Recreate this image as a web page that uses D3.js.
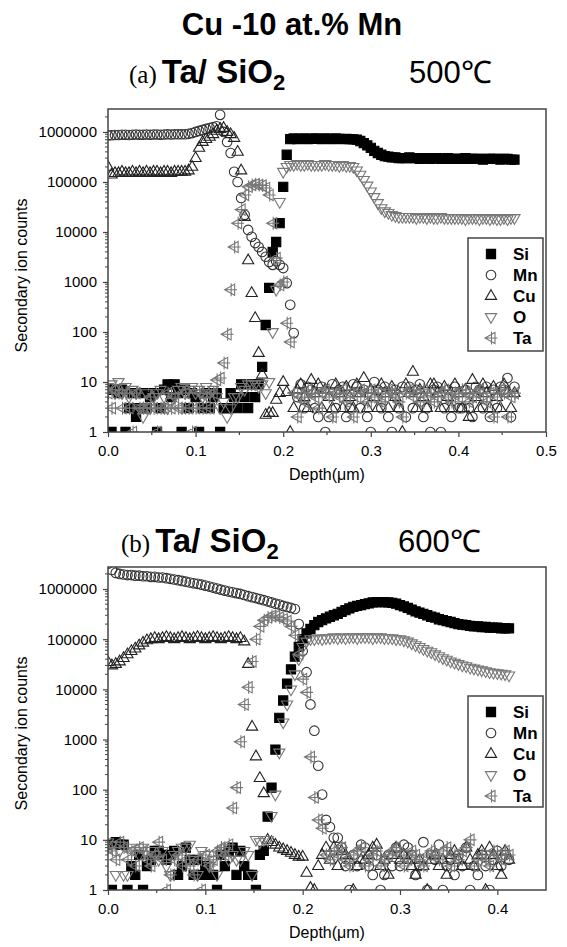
<!DOCTYPE html>
<html>
<head>
<meta charset="utf-8">
<script src="https://cdn.jsdelivr.net/npm/d3@7"></script>
<style>
  body { margin: 0; background: #fff; }
  svg text { font-family: "Liberation Sans", Arial, sans-serif; fill: #000; }
</style>
</head>
<body>
<svg id="chart" width="567" height="947"></svg>
<script>
// ---- data ----
const elements = ['Si', 'Mn', 'Cu', 'O', 'Ta'];
const yTickValues = [1, 10, 100, 1000, 10000, 100000, 1000000];
const xTicksA = [0, 0.1, 0.2, 0.3, 0.4, 0.5];
const xTicksB = [0, 0.1, 0.2, 0.3, 0.4];

// (a) 500 C
const depthA = [0,.004,.008,.012,.016,.02,.024,.028,.032,.036,
  .04,.044,.048,.052,.056,.06,.064,.068,.072,.076,
  .08,.084,.088,.092,.096,.1,.104,.108,.112,.116,
  .12,.124,.128,.132,.136,.14,.144,.148,.152,.156,
  .16,.164,.168,.172,.176,.18,.184,.188,.192,.196,
  .2,.204,.208,.212,.216,.22,.224,.228,.232,.236,
  .24,.244,.248,.252,.256,.26,.264,.268,.272,.276,
  .28,.284,.288,.292,.296,.3,.304,.308,.312,.316,
  .32,.324,.328,.332,.336,.34,.344,.348,.352,.356,
  .36,.364,.368,.372,.376,.38,.384,.388,.392,.396,
  .4,.404,.408,.412,.416,.42,.424,.428,.432,.436,
  .44,.444,.448,.452,.456,.46,.464];
const siA = [7,1,7,6,7,1,3,6,2,3,
  6,3,5,6,1,3,7,9,5,9,
  6,1,7,3,6,5,1,3,6,3,
  5,6,1,3,3,6,5,3,9,5,
  3,9,5,9,20,138,760,4e3,6.3e3,1.5e4,
  8e4,3.5e5,7.2e5,7.4e5,7.2e5,7.3e5,7.4e5,7.2e5,7.3e5,7.4e5,
  7.3e5,7.2e5,7.4e5,7.3e5,7.2e5,7.4e5,7.3e5,7.2e5,7.3e5,7.2e5,
  7.1e5,7e5,6.6e5,6e5,5.4e5,4.8e5,4.2e5,3.8e5,3.5e5,3.3e5,
  3.2e5,3.1e5,3.1e5,3e5,3e5,3e5,3.1e5,3e5,3e5,2.9e5,
  3e5,3e5,2.9e5,3e5,3e5,2.9e5,2.9e5,3e5,2.9e5,2.9e5,
  2.9e5,2.9e5,3e5,2.9e5,2.9e5,2.9e5,2.9e5,2.8e5,2.9e5,2.9e5,
  2.9e5,2.9e5,2.8e5,2.9e5,2.9e5,2.8e5,2.8e5];
const mnA = [8.5e5,8.6e5,8.7e5,8.7e5,8.8e5,8.8e5,8.7e5,8.8e5,8.9e5,8.8e5,
  8.8e5,8.9e5,8.8e5,8.9e5,8.9e5,8.8e5,8.9e5,9e5,8.9e5,9e5,
  9e5,9e5,9e5,9.2e5,9.5e5,1e6,1.05e6,1.1e6,1.15e6,1.2e6,
  1.25e6,1.3e6,2.2e6,1e6,6.3e5,3.8e5,1.6e5,1e5,4.8e4,2.2e4,
  1.1e4,8e3,6e3,5e3,4e3,3.2e3,2.5e3,2.2e3,2.6e3,2.2e3,
  1.9e3,950,350,95,5,9,3,8,7,3,
  2,8,1,2,9,3,7,8,2,3,
  9,8,3,7,2,1,10,7,3,8,
  2,1,7,3,8,2,8,3,7,9,
  2,3,1,7,8,1,3,7,2,8,
  3,3,7,3,2,8,7,3,8,2,
  7,3,8,7,12,2,8];
const cuA = [2e5,1.4e5,1.5e5,1.5e5,1.6e5,1.5e5,1.5e5,1.6e5,1.5e5,1.6e5,
  1.5e5,1.6e5,1.5e5,1.6e5,1.6e5,1.5e5,1.6e5,1.6e5,1.5e5,1.6e5,
  1.6e5,1.6e5,1.6e5,1.7e5,2e5,3e5,4.8e5,6.3e5,7.2e5,8e5,
  9e5,1.05e6,1.15e6,1.2e6,1e6,9e5,7.6e5,4e5,1.7e5,2e4,
  2.7e3,600,190,38,14,2.2,2.4,2.4,4.4,6,
  10,6.3,1,3,7,9,5,3,11,6,
  9,3,7,5,3,9,6,3,8,5,
  3,9,6,12,3,7,5,3,9,6,
  3,8,5,3,1,9,6,16,3,7,
  5,3,9,9,6,3,8,5,3,9,
  6,3,7,2,11,5,3,9,6,3,
  8,5,3,9,6,3,6];
const oA = [8,9,6,10,6,8,5,7,6,3,
  2,6,3,5,6,7,5,3,4,5,
  7,8,6,7,8,6,7,5,8,6,
  7,5,3,4,2,3,5,5,8,7,
  9,9,9,8,9,6,10,100,700,4e4,
  1.6e5,2e5,2.2e5,2.2e5,2.3e5,2.2e5,2.2e5,2.3e5,2.2e5,2.2e5,
  2.2e5,2.2e5,2.3e5,2.2e5,2.2e5,2.2e5,2.1e5,2.2e5,2.1e5,2.1e5,
  2e5,1.7e5,1.4e5,1.1e5,8.5e4,6.5e4,5e4,3.8e4,3e4,2.6e4,
  2.4e4,2.2e4,2.1e4,2e4,2e4,2e4,2e4,2e4,1.9e4,2e4,
  2e4,1.9e4,2e4,1.9e4,1.9e4,2e4,1.9e4,1.9e4,1.9e4,1.9e4,
  1.9e4,1.9e4,1.8e4,1.9e4,1.9e4,1.9e4,1.8e4,1.9e4,1.9e4,1.8e4,
  1.9e4,1.8e4,1.8e4,1.9e4,1.8e4,1.9e4,1.9e4];
const taA = [6,3,7,6,3,6,3,1,6,3,
  3,3,5,3,1,3,3,6,3,5,
  3,3,6,3,1,3,6,3,5,3,
  6,11,12,24,90,700,5e3,1.5e4,2.8e4,5.5e4,
  8e4,8.7e4,9e4,8.7e4,8.5e4,7.6e4,5.5e4,1.5e4,3e3,870,
  1e3,150,63,6,2,5,4,7,6,5,
  3,6,7,5,2,6,5,7,4,6,
  2,5,7,6,4,7,5,6,4,5,
  7,6,5,4,2,6,7,5,6,4,
  7,5,6,4,5,6,7,5,4,6,
  5,7,6,4,5,6,7,5,4,6,
  2,5,7,6,2,5,6];

// (b) 600 C
const depthB = [0,.004,.008,.012,.016,.02,.024,.028,.032,.036,
  .04,.044,.048,.052,.056,.06,.064,.068,.072,.076,
  .08,.084,.088,.092,.096,.1,.104,.108,.112,.116,
  .12,.124,.128,.132,.136,.14,.144,.148,.152,.156,
  .16,.164,.168,.172,.176,.18,.184,.188,.192,.196,
  .2,.204,.208,.212,.216,.22,.224,.228,.232,.236,
  .24,.244,.248,.252,.256,.26,.264,.268,.272,.276,
  .28,.284,.288,.292,.296,.3,.304,.308,.312,.316,
  .32,.324,.328,.332,.336,.34,.344,.348,.352,.356,
  .36,.364,.368,.372,.376,.38,.384,.388,.392,.396,
  .4,.404,.408,.412];
const siB = [8,1,9,8,8,1,3,2,5,1,
  3,4,6,6,5,4,5,6,2,3,
  7,4,2,4,2,3,2,2,1,5,
  3,6,7,2,6,3,2,2,1,5,
  6,29,110,630,2.7e3,6e3,1.3e4,2.5e4,4.5e4,7e4,
  1e5,1.3e5,1.6e5,1.9e5,2.2e5,2.4e5,2.6e5,2.8e5,3e5,3.2e5,
  3.5e5,3.8e5,4.1e5,4.4e5,4.6e5,4.8e5,5e5,5.2e5,5.4e5,5.5e5,
  5.5e5,5.5e5,5.4e5,5.3e5,5.1e5,4.8e5,4.5e5,4.2e5,3.9e5,3.6e5,
  3.4e5,3.2e5,3e5,2.8e5,2.7e5,2.5e5,2.4e5,2.3e5,2.2e5,2.1e5,
  2e5,1.95e5,1.9e5,1.85e5,1.8e5,1.8e5,1.75e5,1.75e5,1.7e5,1.7e5,
  1.7e5,1.65e5,1.65e5,1.65e5];
const mnB = [3.2e6,2.4e6,2.1e6,2e6,1.95e6,1.9e6,1.9e6,1.85e6,1.85e6,1.8e6,
  1.8e6,1.75e6,1.75e6,1.7e6,1.7e6,1.65e6,1.6e6,1.55e6,1.5e6,1.45e6,
  1.4e6,1.35e6,1.3e6,1.27e6,1.22e6,1.17e6,1.12e6,1.07e6,1.02e6,9.7e5,
  9.3e5,8.9e5,8.6e5,8.3e5,8e5,7.6e5,7.2e5,6.9e5,6.6e5,6.3e5,
  6e5,5.7e5,5.4e5,5.1e5,4.9e5,4.6e5,4.4e5,4.2e5,4e5,2e5,
  5.8e4,2.2e4,5e3,1.5e3,300,80,25,18,11,11,
  7,3,1,5,3,8,7,3,2,5,
  1,2,5,3,7,3,8,7,5,2,
  3,9,1,5,4,8,1,3,4,2,
  5,3,7,1,3,2,5,3,1,4,
  6,3,5,4];
const cuB = [3.5e4,3e4,3.2e4,3.6e4,4.2e4,5e4,5.8e4,6.5e4,7.5e4,8.5e4,
  9.5e4,1e5,1.05e5,1e5,1.05e5,1.1e5,1.05e5,1e5,1.05e5,1.1e5,
  1.05e5,1e5,1.05e5,1.1e5,1.05e5,1e5,1.05e5,1.1e5,1.05e5,1e5,
  1.05e5,1.1e5,1.05e5,1e5,1.05e5,9e4,3.2e4,1.8e3,460,170,
  85,10,9,8,7,6.5,6,5.5,5,4.6,
  4.6,2.2,1.1,1,3,5,7,4,7,3,
  6,5,4,1,3,4,4,5,7,8,
  3,4,2,5,7,4,5,4,3,2,
  4,3,1,4,5,3,4,2,5,6,
  4,3,7,4,3,5,6,1,7,5,
  3,2,6,4];
const oB = [9,8,2,6,2,2,7,6,5,7,
  5,6,5,4,6,3,2,5,6,7,
  7,8,4,2,6,5,3,4,2,5,
  6,4,5,4,4,6,5,2,10,9,
  10,10,30,80,550,2.2e3,5e3,1e4,2e4,4e4,
  7e4,9e4,1e5,1e5,1.05e5,1e5,1.05e5,1.05e5,1.1e5,1.05e5,
  1.1e5,1.05e5,1.1e5,1.1e5,1.05e5,1.1e5,1.1e5,1.1e5,1.05e5,1.1e5,
  1.1e5,1.05e5,1.05e5,1.05e5,1e5,1e5,9.5e4,9e4,8.3e4,7.6e4,
  7e4,6.4e4,5.9e4,5.5e4,5e4,4.6e4,4.2e4,3.9e4,3.6e4,3.4e4,
  3.2e4,3e4,2.9e4,2.7e4,2.6e4,2.5e4,2.4e4,2.3e4,2.2e4,2.15e4,
  2.1e4,2.05e4,2e4,1.9e4];
const taB = [7,6,4,9,7,4,6,3,7,6,
  4,3,5,9,4,1,2,4,5,3,
  4,3,2,4,1,5,3,4,6,7,
  5,8,43,110,900,5e3,1.1e4,3.6e4,1e5,1.8e5,
  2.4e5,2.7e5,2.9e5,2.9e5,2.7e5,2.5e5,2.3e5,1.8e5,1.2e5,5e4,
  1.6e4,8.7e3,450,70,25,17,5,4,6,5,
  7,4,3,5,6,7,3,4,5,6,
  3,4,5,6,7,5,3,4,6,5,
  4,3,5,6,5,4,6,7,3,5,
  4,6,7,10,3,4,5,4,3,6,
  5,4,6,5];

// ---- drawing ----
const markerStyle = {
  Si: { d: 'M-4.6,-4.6H4.6V4.6H-4.6Z', fill: '#000', stroke: '#000' },
  Mn: { d: 'M-4.8,0A4.8,4.8 0 1,0 4.8,0A4.8,4.8 0 1,0 -4.8,0Z', fill: 'none', stroke: '#333' },
  Cu: { d: 'M0,-6.3L5.6,3.4L-5.6,3.4Z', fill: 'none', stroke: '#222' },
  O:  { d: 'M0,6.3L5.6,-3.4L-5.6,-3.4Z', fill: 'none', stroke: '#777' },
  Ta: { d: 'M-6,0L4,-5.6L4,5.6Z M-6.5,0H6.5 M0.5,-6.5V6.5', fill: 'none', stroke: '#777' }
};

const panels = [
  { id: 'a', label: '(a)', temp: '500\u2103', depth: depthA, series: { Si: siA, Mn: mnA, Cu: cuA, O: oA, Ta: taA },
    top: 109, bottom: 432, left: 108, right: 546, xMax: 0.5, yMax: 2.88e6, xTicks: xTicksA, titleY: 83 },
  { id: 'b', label: '(b)', temp: '600\u2103', depth: depthB, series: { Si: siB, Mn: mnB, Cu: cuB, O: oB, Ta: taB },
    top: 567, bottom: 890, left: 108, right: 546, xMax: 0.45, yMax: 2.75e6, xTicks: xTicksB, titleY: 552 }
];

document.addEventListener('DOMContentLoaded', function() {
  const svg = d3.select('#chart');

  svg.append('text')
    .attr('x', 292).attr('y', 35)
    .attr('text-anchor', 'middle')
    .attr('font-size', 31).attr('font-weight', 'bold')
    .text('Cu -10 at.% Mn');

  panels.forEach(function(p) {
    const x = d3.scaleLinear().domain([0, p.xMax]).range([p.left, p.right]);
    const y = d3.scaleLog().domain([1, p.yMax]).range([p.bottom, p.top]);
    const g = svg.append('g');

    // heading line
    const hd = g.append('text').attr('y', p.titleY);
    hd.append('tspan').attr('x', p.id === 'a' ? 129 : 121)
      .attr('font-family', '"Liberation Serif", serif').attr('font-size', 25).text(p.label);
    hd.append('tspan').attr('dx', 5).attr('font-size', 33).attr('font-weight', 'bold').text('Ta/ SiO');
    hd.append('tspan').attr('dy', 7).attr('font-size', 22).attr('font-weight', 'bold').text('2');
    g.append('text').attr('x', p.id === 'a' ? 409 : 398).attr('y', p.titleY)
      .attr('font-family', '"Liberation Serif", serif').attr('font-size', 31).text(p.temp);

    // clip to the frame
    g.append('clipPath').attr('id', 'clip-' + p.id)
      .append('rect')
      .attr('x', p.left).attr('y', p.top)
      .attr('width', p.right - p.left).attr('height', p.bottom - p.top);

    const plot = g.append('g').attr('clip-path', 'url(#clip-' + p.id + ')');
    elements.forEach(function(el) {
      const vals = p.series[el];
      if (vals.length !== p.depth.length) throw new Error(p.id + ' ' + el + ' length ' + vals.length);
      const pts = p.depth.map((d, i) => [d, vals[i]]).filter(v => v[1] != null && v[1] > 0);
      const st = markerStyle[el];
      plot.selectAll(null).data(pts).enter().append('path')
        .attr('transform', d => 'translate(' + x(d[0]) + ',' + y(d[1]) + ')')
        .attr('d', st.d)
        .attr('fill', st.fill).attr('stroke', st.stroke).attr('stroke-width', 1.1);
    });

    // frame
    g.append('rect')
      .attr('x', p.left).attr('y', p.top)
      .attr('width', p.right - p.left).attr('height', p.bottom - p.top)
      .attr('fill', 'none').attr('stroke', '#444').attr('stroke-width', 1.5);

    // x axis
    const xAxis = d3.axisBottom(x).tickValues(p.xTicks).tickSize(5).tickFormat(d3.format('.1f'));
    const xa = g.append('g').attr('transform', 'translate(0,' + p.bottom + ')').call(xAxis);
    xa.select('.domain').remove();
    xa.selectAll('line').attr('stroke', '#444').attr('stroke-width', 1.2);
    xa.selectAll('text').attr('font-size', 15).attr('dy', '1.05em')
      .style('font-family', '"Liberation Sans", Arial, sans-serif').attr('fill', '#000');
    const xMinor = d3.range(0.05, p.xMax, 0.1);
    g.selectAll(null).data(xMinor).enter().append('line')
      .attr('x1', d => x(d)).attr('x2', d => x(d))
      .attr('y1', p.bottom).attr('y2', p.bottom + 3)
      .attr('stroke', '#444').attr('stroke-width', 1.2);

    // y axis (log)
    const yAxis = d3.axisLeft(y).tickValues(yTickValues).tickSize(5).tickFormat(d3.format('d'));
    const ya = g.append('g').attr('transform', 'translate(' + p.left + ',0)').call(yAxis);
    ya.select('.domain').remove();
    ya.selectAll('line').attr('stroke', '#444').attr('stroke-width', 1.2);
    ya.selectAll('text').attr('font-size', 15).attr('dx', '-0.2em')
      .style('font-family', '"Liberation Sans", Arial, sans-serif').attr('fill', '#000');
    const yMinor = y.ticks().filter(v => yTickValues.indexOf(v) < 0 && v < p.yMax);
    g.selectAll(null).data(yMinor).enter().append('line')
      .attr('x1', p.left - 3).attr('x2', p.left)
      .attr('y1', d => y(d)).attr('y2', d => y(d))
      .attr('stroke', '#444').attr('stroke-width', 1);

    // axis titles
    g.append('text')
      .attr('transform', 'translate(27,' + ((p.top + p.bottom) / 2 + 5) + ') rotate(-90)')
      .attr('text-anchor', 'middle').attr('font-size', 16)
      .text('Secondary ion counts');
    g.append('text')
      .attr('x', (p.left + p.right) / 2).attr('y', p.bottom + 48)
      .attr('text-anchor', 'middle').attr('font-size', 16)
      .text('Depth(\u03bcm)');

    // legend
    const lx = 468, ly = p.id === 'a' ? 238 : 696;
    g.append('rect').attr('x', lx).attr('y', ly).attr('width', 75).attr('height', p.id === 'a' ? 113 : 111)
      .attr('fill', '#fff').attr('stroke', '#444').attr('stroke-width', 1.5);
    elements.forEach(function(el, i) {
      const cy = ly + 16 + i * 21;
      const st = markerStyle[el];
      g.append('path').attr('transform', 'translate(' + (lx + 23) + ',' + cy + ')')
        .attr('d', st.d).attr('fill', st.fill).attr('stroke', st.stroke).attr('stroke-width', 1.1);
      g.append('text').attr('x', lx + 45).attr('y', cy + 6)
        .attr('font-size', 17).attr('font-weight', 'bold').text(el);
    });
  });
});
</script>
</body>
</html>
